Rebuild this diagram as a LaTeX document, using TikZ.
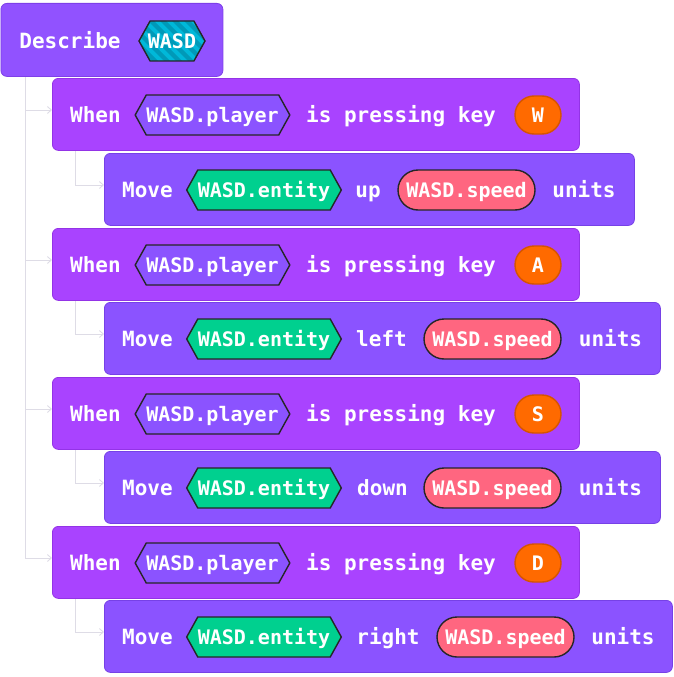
\documentclass[tikz,border=0pt]{standalone}
\usepackage{fontspec}
\setmonofont{DejaVu Sans Mono}
\usetikzlibrary{shapes.symbols,arrows.meta,calc}
\definecolor{descol}{HTML}{9152FF}
\definecolor{descbd}{HTML}{7E40E8}
\definecolor{whencol}{HTML}{A943FF}
\definecolor{whenbd}{HTML}{9333E6}
\definecolor{movecol}{HTML}{8B53FF}
\definecolor{movebd}{HTML}{7641E6}
\definecolor{cyancol}{HTML}{00B8D9}
\definecolor{cyandark}{HTML}{0099B8}
\definecolor{entcol}{HTML}{00D08F}
\definecolor{speedcol}{HTML}{FF6680}
\definecolor{keycol}{HTML}{FF6A00}
\definecolor{keybd}{HTML}{D65500}
\definecolor{conncol}{HTML}{DEDCE6}
\tikzset{
  x=1pt, y=-1pt,
  blk/.style={rectangle, rounded corners=6pt, anchor=north west, line width=0.8pt, inner sep=0pt},
  descblk/.style={blk, fill=descol, draw=descbd},
  whenblk/.style={blk, fill=whencol, draw=whenbd, minimum width=527pt, minimum height=72pt},
  moveblk/.style={blk, fill=movecol, draw=movebd, minimum height=72pt},
  txtbox/.style={text height=19pt, text depth=4pt},
  lbl/.style={txtbox, text=white, font=\fontsize{21}{21}\selectfont\ttfamily\bfseries, inner sep=0pt},
  hexa/.style={shape=signal, signal to=east and west, signal pointer angle=122, draw=black!85, line width=1.4pt, minimum height=40pt, inner sep=0pt, txtbox, text=white, font=\fontsize{20}{20}\selectfont\ttfamily\bfseries},
  playerhex/.style={hexa, fill=movecol, minimum width=149pt},
  entityhex/.style={hexa, fill=entcol, minimum width=146pt},
  speedpill/.style={rectangle, rounded corners=20pt, draw=black!85, line width=1.4pt, fill=speedcol, minimum width=137pt, minimum height=40pt, inner sep=0pt, txtbox, text=white, font=\fontsize{20}{20}\selectfont\ttfamily\bfseries},
  keypill/.style={rectangle, rounded corners=19pt, draw=keybd, line width=1.4pt, fill=keycol, minimum width=46pt, minimum height=38pt, inner sep=0pt, txtbox, text=white, font=\fontsize{20}{20}\selectfont\ttfamily\bfseries},
  conn/.style={draw=conncol, line width=0.9pt, -{Straight Barb[length=4pt,width=7pt]}},
}
\begin{document}
\begin{tikzpicture}
\useasboundingbox (0,0) rectangle (674,677);
% connectors (drawn first, behind blocks)
\coordinate (dtrunk) at (25,76);
\coordinate (w1in) at (52,110);
\coordinate (w2in) at (52,260);
\coordinate (w3in) at (52,409);
\coordinate (w4in) at (52,558);
\coordinate (m1in) at (104,185);
\coordinate (m2in) at (104,334);
\coordinate (m3in) at (104,483);
\coordinate (m4in) at (104,632);
\draw[conn] (dtrunk) |- (w1in);
\draw[conn] (dtrunk) |- (w2in);
\draw[conn] (dtrunk) |- (w3in);
\draw[conn] (dtrunk) |- (w4in);
\draw[conn] (75,150) |- (m1in);
\draw[conn] (75,299) |- (m2in);
\draw[conn] (75,448) |- (m3in);
\draw[conn] (75,597) |- (m4in);

% Describe block
\node[descblk, minimum width=222pt, minimum height=73pt] (d) at (0.5,3) {};
\node[lbl] (dl) at (70,41) {Describe};
\node[shape=signal, signal to=east and west, signal pointer angle=122, draw=black!85, line width=1.4pt, minimum height=40pt, minimum width=66pt, inner sep=0pt, fill=cyancol,
  path picture={\foreach \i in {-8,...,8} \fill[cyandark] ($(path picture bounding box.center)+(\i*12pt-34pt,30pt)$) -- ++(6pt,0) -- ++(60pt,-60pt) -- ++(-6pt,0) -- cycle;}] (dh) at (172,41) {};
\node[lbl, font=\fontsize{20}{20}\selectfont\ttfamily\bfseries] (dt) at (dh) {WASD};

% When / Move rows
\foreach \r/\wy/\my/\mw/\dir/\dirx/\spx/\unx/\key in {1/78/153/530/up/368/466.5/584/W, 2/228/302/556/left/381.5/492.5/610.5/A, 3/377/451/556/down/382.5/492.5/610.5/S, 4/526/600/568/right/388/505.5/623/D}{
  \node[whenblk] (w\r) at (52,\wy) {};
  \node[lbl] (w\r a) at (95.5,\wy+37) {When};
  \node[playerhex] (w\r b) at (212.5,\wy+37) {WASD.player};
  \node[lbl] (w\r c) at (401,\wy+37) {is pressing key};
  \node[keypill] (w\r d) at (538,\wy+37) {\key};
  \node[moveblk, minimum width=\mw pt] (m\r) at (104,\my) {};
  \node[lbl] (m\r a) at (147.5,\my+37) {Move};
  \node[entityhex] (m\r b) at (264,\my+37) {WASD.entity};
  \node[lbl] (m\r c) at (\dirx,\my+37) {\dir};
  \node[speedpill] (m\r d) at (\spx,\my+37) {WASD.speed};
  \node[lbl] (m\r e) at (\unx,\my+37) {units};
}
\end{tikzpicture}
\end{document}
